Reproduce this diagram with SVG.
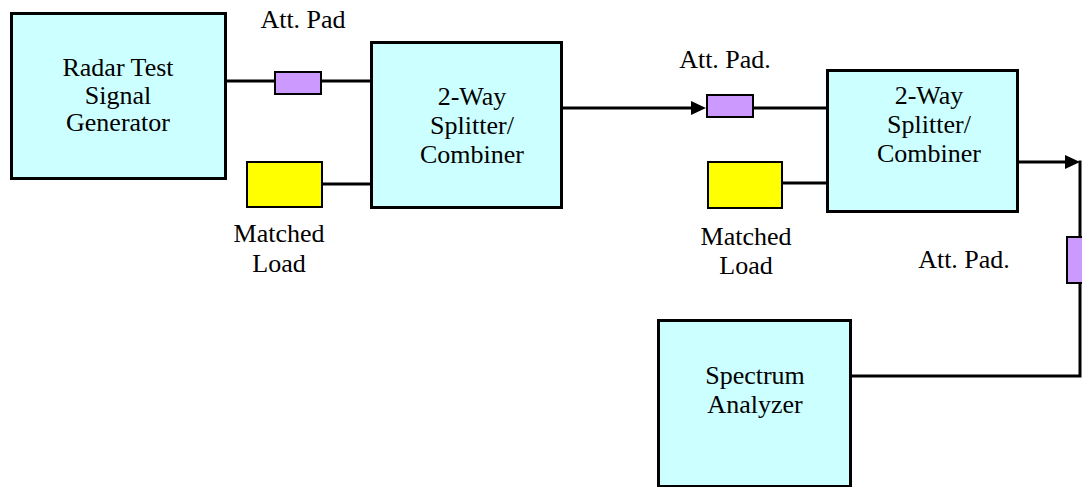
<svg xmlns="http://www.w3.org/2000/svg" width="1082" height="487" viewBox="0 0 1082 487">
  <defs>
    <style>
      .box { fill: #CCFFFF; stroke: #000; stroke-width: 3; }
      .pad { fill: #CC99FF; stroke: #000; stroke-width: 2; }
      .load { fill: #FFFF00; stroke: #000; stroke-width: 2; }
      .wire { fill: none; stroke: #000; stroke-width: 3; }
      .lbl { font-size: 26px; fill: #000; text-anchor: middle; }
    </style>
    <marker id="arrow" markerUnits="userSpaceOnUse" markerWidth="15" markerHeight="14" refX="9" refY="7" orient="auto">
      <path d="M0,0 L15,7 L0,14 Z" fill="#000"/>
    </marker>
  </defs>
  <rect width="1082" height="487" fill="#fff"/>

  <!-- connectors -->
  <g id="connectors">
    <path class="wire" d="M227,81 H275"/>
    <path class="wire" d="M321,81 H371"/>
    <path class="wire" d="M322,184 H371"/>
    <path class="wire" d="M563,108 H700" marker-end="url(#arrow)"/>
    <path class="wire" d="M753,108 H827"/>
    <path class="wire" d="M782,183 H827"/>
    <path class="wire" d="M1019,162 H1074" marker-end="url(#arrow)"/>
    <path class="wire" d="M1080,160.5 V237"/>
    <path class="wire" d="M1080,283 V376 H851"/>
  </g>

  <g font-family="'Liberation Serif', 'Times New Roman', 'DejaVu Serif', serif">
    <!-- signal generator -->
    <g id="signal-generator">
      <rect class="box" x="11.5" y="13.5" width="214" height="165"/>
      <text class="lbl" x="118" y="76">Radar Test</text>
      <text class="lbl" x="118" y="104">Signal</text>
      <text class="lbl" x="118" y="131">Generator</text>
    </g>

    <!-- first attenuator pad -->
    <g id="att-pad-1">
      <rect class="pad" x="275" y="72" width="46" height="22"/>
      <text class="lbl" x="303" y="28">Att. Pad</text>
    </g>

    <!-- first matched load -->
    <g id="matched-load-1">
      <rect class="load" x="247" y="162" width="75" height="45"/>
      <text class="lbl" x="279" y="242">Matched</text>
      <text class="lbl" x="279" y="272">Load</text>
    </g>

    <!-- first splitter -->
    <g id="splitter-1">
      <rect class="box" x="371.5" y="42.5" width="190" height="165"/>
      <text class="lbl" x="472" y="105">2-Way</text>
      <text class="lbl" x="472" y="134">Splitter/</text>
      <text class="lbl" x="472" y="163">Combiner</text>
    </g>

    <!-- second attenuator pad -->
    <g id="att-pad-2">
      <rect class="pad" x="707" y="95" width="46" height="22"/>
      <text class="lbl" x="725" y="68">Att. Pad.</text>
    </g>

    <!-- second matched load -->
    <g id="matched-load-2">
      <rect class="load" x="708" y="162" width="74" height="46"/>
      <text class="lbl" x="746" y="245">Matched</text>
      <text class="lbl" x="746" y="274">Load</text>
    </g>

    <!-- second splitter -->
    <g id="splitter-2">
      <rect class="box" x="827.5" y="70.5" width="190" height="141"/>
      <text class="lbl" x="929" y="104">2-Way</text>
      <text class="lbl" x="929" y="133">Splitter/</text>
      <text class="lbl" x="929" y="162">Combiner</text>
    </g>

    <!-- third attenuator pad (vertical) -->
    <g id="att-pad-3">
      <rect class="pad" x="1067" y="237" width="24" height="46"/>
      <text class="lbl" x="964" y="268">Att. Pad.</text>
    </g>

    <!-- spectrum analyzer -->
    <g id="spectrum-analyzer">
      <rect class="box" x="658.5" y="320.5" width="192" height="166"/>
      <text class="lbl" x="755" y="384">Spectrum</text>
      <text class="lbl" x="755" y="413">Analyzer</text>
    </g>
  </g>
</svg>
